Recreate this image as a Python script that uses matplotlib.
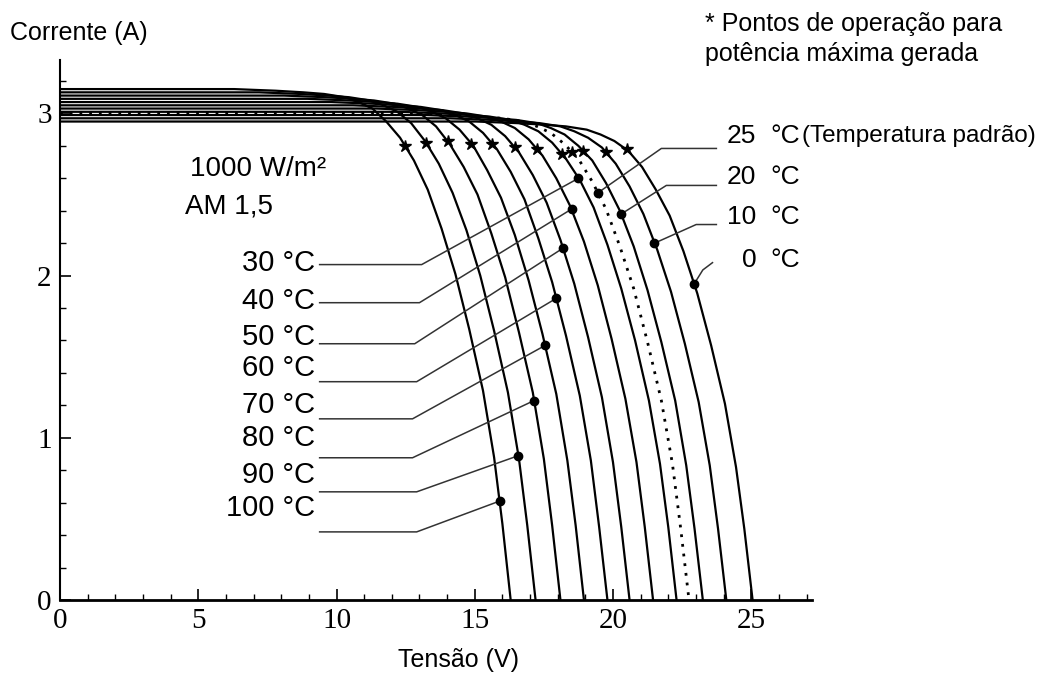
import matplotlib.pyplot as plt
from matplotlib.ticker import MultipleLocator

# temperatures of the I-V curves (25 C is the dashed one)
temps = [0, 10, 20, 25, 30, 40, 50, 60, 70, 80, 90, 100]

# voltage (V) points of every curve
curve_v = [
    [0, 15.05, 16.55, 17.55, 18.3, 19.05, 19.55, 20.05, 20.55, 21.05, 21.55, 22.05, 22.55, 23.05, 23.55, 24.05, 24.45, 24.75, 25.05],
    [0, 14.1, 15.6, 16.6, 17.35, 18.1, 18.6, 19.1, 19.6, 20.1, 20.6, 21.1, 21.6, 22.1, 22.6, 23.1, 23.5, 23.8, 24.1],
    [0, 13.25, 14.75, 15.75, 16.5, 17.25, 17.75, 18.25, 18.75, 19.25, 19.75, 20.25, 20.75, 21.25, 21.75, 22.25, 22.65, 22.95, 23.25],
    [0, 12.75, 14.25, 15.25, 16.0, 16.75, 17.25, 17.75, 18.25, 18.75, 19.25, 19.75, 20.25, 20.75, 21.25, 21.75, 22.15, 22.45, 22.75],
    [0, 12.3, 13.8, 14.8, 15.55, 16.3, 16.8, 17.3, 17.8, 18.3, 18.8, 19.3, 19.8, 20.3, 20.8, 21.3, 21.7, 22.0, 22.3],
    [0, 11.45, 12.95, 13.95, 14.7, 15.45, 15.95, 16.45, 16.95, 17.45, 17.95, 18.45, 18.95, 19.45, 19.95, 20.45, 20.85, 21.15, 21.45],
    [0, 10.6, 12.1, 13.1, 13.85, 14.6, 15.1, 15.6, 16.1, 16.6, 17.1, 17.6, 18.1, 18.6, 19.1, 19.6, 20.0, 20.3, 20.6],
    [0, 9.8, 11.3, 12.3, 13.05, 13.8, 14.3, 14.8, 15.3, 15.8, 16.3, 16.8, 17.3, 17.8, 18.3, 18.8, 19.2, 19.5, 19.8],
    [0, 8.95, 10.45, 11.45, 12.2, 12.95, 13.45, 13.95, 14.45, 14.95, 15.45, 15.95, 16.45, 16.95, 17.45, 17.95, 18.35, 18.65, 18.95],
    [0, 8.1, 9.6, 10.6, 11.35, 12.1, 12.6, 13.1, 13.6, 14.1, 14.6, 15.1, 15.6, 16.1, 16.6, 17.1, 17.5, 17.8, 18.1],
    [0, 7.2, 8.7, 9.7, 10.45, 11.2, 11.7, 12.2, 12.7, 13.2, 13.7, 14.2, 14.7, 15.2, 15.7, 16.2, 16.6, 16.9, 17.2],
    [0, 6.3, 7.8, 8.8, 9.55, 10.3, 10.8, 11.3, 11.8, 12.3, 12.8, 13.3, 13.8, 14.3, 14.8, 15.3, 15.7, 16.0, 16.3],
]
# current (A) points of every curve
curve_i = [
    [2.95, 2.95, 2.94, 2.93, 2.92, 2.90, 2.87, 2.83, 2.77, 2.67, 2.53, 2.37, 2.15, 1.89, 1.57, 1.21, 0.82, 0.44, 0],
    [2.97, 2.97, 2.96, 2.95, 2.94, 2.92, 2.89, 2.85, 2.79, 2.69, 2.55, 2.38, 2.16, 1.90, 1.58, 1.22, 0.83, 0.44, 0],
    [2.99, 2.99, 2.98, 2.97, 2.96, 2.94, 2.91, 2.87, 2.80, 2.71, 2.57, 2.40, 2.18, 1.91, 1.59, 1.23, 0.83, 0.44, 0],
    [3.00, 3.00, 2.99, 2.98, 2.97, 2.95, 2.92, 2.88, 2.81, 2.72, 2.58, 2.41, 2.18, 1.92, 1.59, 1.23, 0.84, 0.44, 0],
    [3.01, 3.01, 3.00, 2.99, 2.98, 2.96, 2.93, 2.89, 2.82, 2.72, 2.59, 2.42, 2.19, 1.92, 1.60, 1.23, 0.84, 0.45, 0],
    [3.03, 3.03, 3.02, 3.01, 3.00, 2.98, 2.95, 2.91, 2.84, 2.74, 2.60, 2.43, 2.21, 1.94, 1.61, 1.24, 0.85, 0.45, 0],
    [3.05, 3.05, 3.04, 3.03, 3.02, 3.00, 2.97, 2.93, 2.86, 2.76, 2.62, 2.45, 2.22, 1.95, 1.62, 1.25, 0.85, 0.45, 0],
    [3.07, 3.07, 3.06, 3.05, 3.04, 3.02, 2.99, 2.95, 2.88, 2.78, 2.64, 2.47, 2.23, 1.96, 1.63, 1.26, 0.86, 0.45, 0],
    [3.09, 3.09, 3.08, 3.07, 3.06, 3.04, 3.01, 2.97, 2.90, 2.80, 2.65, 2.48, 2.25, 1.97, 1.64, 1.27, 0.86, 0.46, 0],
    [3.11, 3.11, 3.10, 3.09, 3.08, 3.06, 3.03, 2.99, 2.92, 2.81, 2.67, 2.50, 2.26, 1.99, 1.65, 1.28, 0.87, 0.46, 0],
    [3.13, 3.13, 3.12, 3.11, 3.10, 3.08, 3.05, 3.01, 2.94, 2.83, 2.69, 2.51, 2.28, 2.00, 1.66, 1.28, 0.87, 0.46, 0],
    [3.15, 3.15, 3.14, 3.13, 3.12, 3.10, 3.07, 3.03, 2.95, 2.85, 2.71, 2.53, 2.29, 2.01, 1.67, 1.29, 0.88, 0.47, 0],
]

# maximum power points (*)
star_v = [20.49, 19.76, 18.9, 18.5, 18.17, 17.27, 16.44, 15.64, 14.88, 14.02, 13.25, 12.46]
star_i = [2.78, 2.76, 2.77, 2.76, 2.75, 2.78, 2.79, 2.81, 2.81, 2.83, 2.82, 2.80]

# points where the label leaders touch the curves
dot_v = [22.94, 21.5, 20.3, 19.45, 18.75, 18.5, 18.2, 17.95, 17.55, 17.15, 16.58, 15.9]
dot_i = [1.95, 2.20, 2.38, 2.51, 2.60, 2.41, 2.17, 1.86, 1.57, 1.23, 0.89, 0.61]

x_ticks = [0, 5, 10, 15, 20, 25]
y_ticks = [0, 1, 2, 3]

SANS = 'Liberation Sans'
SERIF = 'Liberation Serif'

fig = plt.figure(figsize=(10.55, 6.76), dpi=100)
ax = fig.add_axes([0.0569, 0.1124, 0.7128, 0.799])

for k, t in enumerate(temps):
    if t == 25:
        ax.plot(curve_v[k], curve_i[k], color='black', lw=2.0, ls=(0, (1, 2.5)))
    else:
        ax.plot(curve_v[k], curve_i[k], color='black', lw=1.6)

ax.plot(star_v, star_i, ls='none', marker='*', ms=9, color='black')
ax.plot(dot_v, dot_i, ls='none', marker='o', ms=6, color='black', zorder=5)

# left labels (30 .. 100 C) with leaders
left_idx = [4, 5, 6, 7, 8, 9, 10, 11]
left_text_y = [2.08, 1.846, 1.623, 1.432, 1.204, 1.0, 0.772, 0.568]
left_line_y = [2.068, 1.833, 1.58, 1.346, 1.117, 0.877, 0.667, 0.42]
left_bend_x = [13.08, 13.0, 12.83, 12.9, 12.75, 12.75, 12.9, 12.9]
for n, k in enumerate(left_idx):
    ax.text(9.21, left_text_y[n], f'{temps[k]} °C', ha='right', va='center',
            fontsize=21, family=SANS)
    ax.plot([9.39, left_bend_x[n], dot_v[k]], [left_line_y[n], left_line_y[n], dot_i[k]],
            color='#333333', lw=1.1)

# right labels (25 .. 0 C)
right_idx = [3, 2, 1, 0]
right_text_y = [2.858, 2.611, 2.364, 2.099]
for n, k in enumerate(right_idx):
    ax.text(25.18, right_text_y[n], str(temps[k]), ha='right', va='center',
            fontsize=19, family=SANS)
    ax.text(25.69, right_text_y[n], '°C', ha='left', va='center', fontsize=19, family=SANS)
ax.text(26.84, right_text_y[0], '(Temperatura padrão)', ha='left', va='center',
        fontsize=17.5, family=SANS)
ax.plot([23.74, 21.75, dot_v[3]], [2.784, 2.784, dot_i[3]], color='#333333', lw=1.1)
ax.plot([23.74, 21.93, dot_v[2]], [2.556, 2.556, dot_i[2]], color='#333333', lw=1.1)
ax.plot([23.74, 23.01, dot_v[1]], [2.315, 2.315, dot_i[1]], color='#333333', lw=1.1)
ax.plot([23.6, 23.25, dot_v[0]], [2.08, 2.035, dot_i[0]], color='#333333', lw=1.1)

ax.text(4.70, 2.66, '1000 W/m²', ha='left', va='center', fontsize=20, family=SANS)
ax.text(4.52, 2.426, 'AM 1,5', ha='left', va='center', fontsize=20, family=SANS)

ax.set_xlim(0, 27.2)
ax.set_ylim(0, 3.33)
for side in ['top', 'right']:
    ax.spines[side].set_visible(False)
ax.spines['left'].set_linewidth(1.5)
ax.spines['bottom'].set_linewidth(2.0)

ax.set_xticks(x_ticks)
ax.set_yticks(y_ticks)
ax.xaxis.set_minor_locator(MultipleLocator(1))
ax.yaxis.set_minor_locator(MultipleLocator(0.2))
ax.tick_params(which='major', direction='in', length=8, width=1.2, labelsize=21, pad=6)
ax.tick_params(which='minor', direction='in', length=4, width=1.0)
for lbl in ax.get_xticklabels() + ax.get_yticklabels():
    lbl.set_fontfamily(SERIF)

fig.text(0.0095, 0.951, 'Corrente (A)', ha='left', va='center', fontsize=18, family=SANS)
fig.text(0.435, 0.024, 'Tensão (V)', ha='center', va='center', fontsize=18, family=SANS)
fig.text(0.668, 0.964, '* Pontos de operação para', ha='left', va='center',
         fontsize=18, family=SANS)
fig.text(0.668, 0.92, 'potência máxima gerada', ha='left', va='center',
         fontsize=18, family=SANS)

fig.savefig('out.png', dpi=100)
